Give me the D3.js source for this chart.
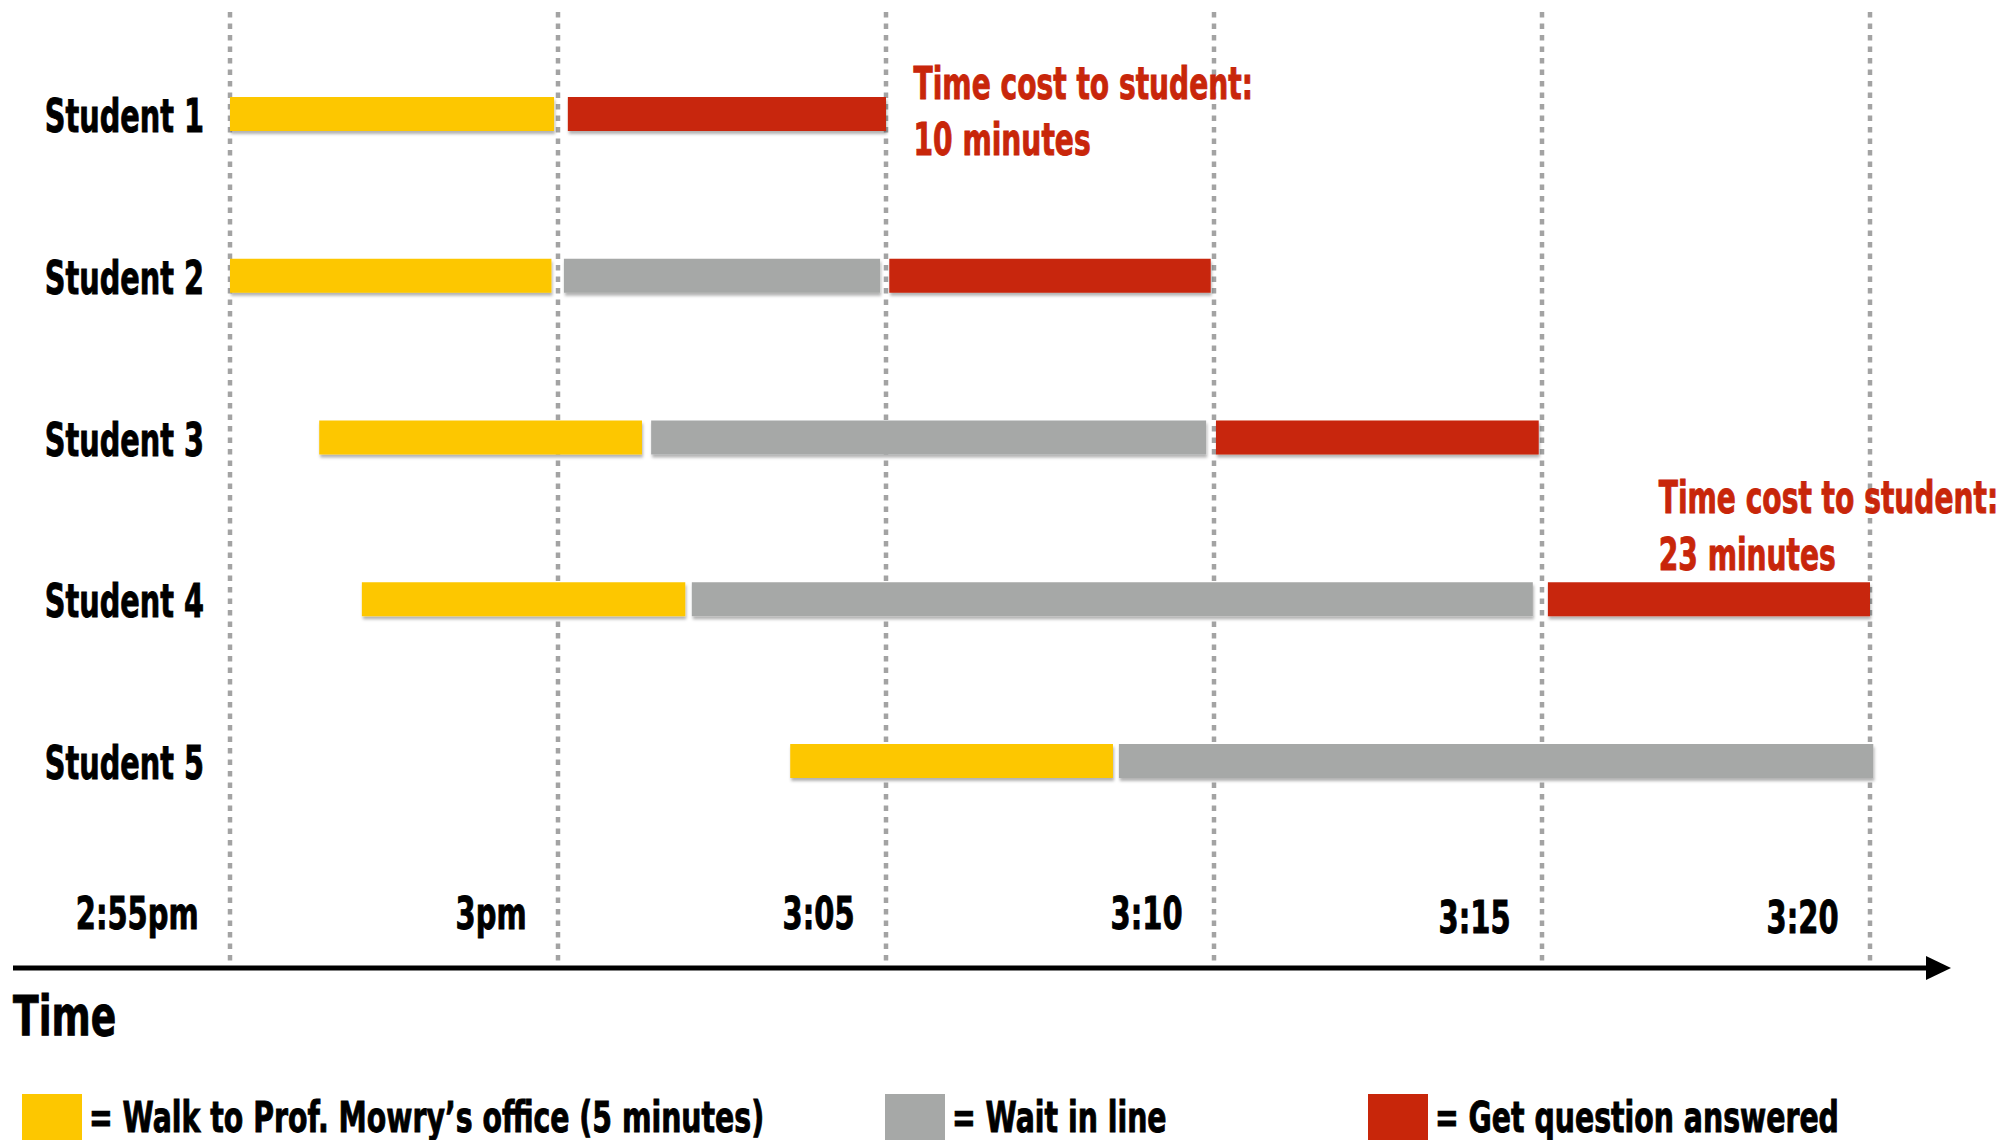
<!DOCTYPE html>
<html>
<head>
<meta charset="utf-8">
<script src="https://cdn.jsdelivr.net/npm/d3@7"></script>
<style>
  body { margin: 0; background: #fff; }
  svg text { font-family: "Liberation Sans Narrow", "DejaVu Sans Condensed", sans-serif; font-weight: bold; stroke-width: 0.9px; }
</style>
</head>
<body>
<svg id="chart"></svg>
<script>
const svgWidth = 2007;
const svgHeight = 1140;

// data: minutes after 2:55pm
const students = ['Student 1', 'Student 2', 'Student 3', 'Student 4', 'Student 5'];
const walkSegs = [[0, 4.94], [0, 4.9], [1.36, 6.28], [2.01, 6.94], [8.54, 13.46]];
const waitSegs = [null, [5.09, 9.91], [6.42, 14.88], [7.04, 19.86], [13.55, 25.05]];
const answerSegs = [[5.15, 10.0], [10.05, 14.95], [15.03, 19.95], [20.09, 25.0], null];

const tickMinutes = [0, 5, 10, 15, 20, 25];
const tickLabels = ['2:55pm', '3pm', '3:05', '3:10', '3:15', '3:20'];

const legendLabels = ['= Walk to Prof. Mowry\u2019s office (5 minutes)', '= Wait in line', '= Get question answered'];

const annoStudents = ['Student 1', 'Student 4'];
const annoMinutes = [10.42, 21.78];
const annoLines = [['Time cost to student:', '10 minutes'], ['Time cost to student:', '23 minutes']];
const annoOffsets = [[-15, 41], [-86, -29]];

const colors = { walk: '#FDC700', wait: '#A6A8A7', answer: '#C8260A' };

const barHeight = 34;
const axisY = 968;

const svg = d3.select('#chart')
  .attr('width', svgWidth)
  .attr('height', svgHeight);

const defs = svg.append('defs');
const shadow = defs.append('filter')
  .attr('id', 'shadow')
  .attr('x', '-5%').attr('y', '-30%')
  .attr('width', '110%').attr('height', '170%');
shadow.append('feDropShadow')
  .attr('dx', 1).attr('dy', 3)
  .attr('stdDeviation', 1.5)
  .attr('flood-color', '#000')
  .attr('flood-opacity', 0.3);

const x = d3.scaleLinear().domain([0, 25]).range([230, 1870]);
const y = d3.scalePoint().domain(students).range([114, 761]);

// squeeze text horizontally to mimic a condensed face
function squeeze(sel, k) {
  sel.each(function() {
    const w = this.getComputedTextLength();
    d3.select(this).attr('textLength', w * k).attr('lengthAdjust', 'spacingAndGlyphs');
  });
}

// dotted gridlines
svg.append('g')
  .selectAll('line')
  .data(tickMinutes)
  .enter()
  .append('line')
  .attr('x1', d => x(d))
  .attr('x2', d => x(d))
  .attr('y1', 12)
  .attr('y2', axisY - 2)
  .attr('stroke', '#A3A3A3')
  .attr('stroke-width', 4.5)
  .attr('stroke-dasharray', '5.5,6');

// bars
const segments = [];
students.forEach((s, i) => {
  if (walkSegs[i]) segments.push({ student: s, kind: 'walk', seg: walkSegs[i] });
  if (waitSegs[i]) segments.push({ student: s, kind: 'wait', seg: waitSegs[i] });
  if (answerSegs[i]) segments.push({ student: s, kind: 'answer', seg: answerSegs[i] });
});

svg.append('g')
  .selectAll('rect')
  .data(segments)
  .enter()
  .append('rect')
  .attr('x', d => x(d.seg[0]))
  .attr('width', d => x(d.seg[1]) - x(d.seg[0]))
  .attr('y', d => y(d.student) - barHeight / 2)
  .attr('height', barHeight)
  .attr('fill', d => colors[d.kind])
  .attr('filter', 'url(#shadow)');

// student labels
const studentLabels = svg.append('g')
  .selectAll('text')
  .data(students)
  .enter()
  .append('text')
  .attr('x', 204)
  .attr('y', d => y(d) + 18)
  .attr('text-anchor', 'end')
  .attr('font-size', 47)
  .attr('fill', '#000')
  .attr('stroke', '#000')
  .text(d => d);
squeeze(studentLabels, 0.68);

// time axis labels
const axis = d3.axisBottom(x)
  .tickValues(tickMinutes)
  .tickFormat((d, i) => tickLabels[i])
  .tickSize(0);
const axisG = svg.append('g')
  .attr('transform', `translate(0, ${axisY})`)
  .call(axis);
axisG.select('.domain').remove();
const tickText = axisG.selectAll('.tick text')
  .attr('font-family', null)
  .attr('font-size', 44)
  .attr('fill', '#000')
  .attr('stroke', '#000')
  .attr('text-anchor', 'end')
  .attr('dy', null)
  .attr('x', -32)
  .attr('y', (d, i) => i >= 4 ? -35 : -39);
squeeze(tickText, 0.73);

// axis arrow
svg.append('line')
  .attr('x1', 13)
  .attr('x2', 1930)
  .attr('y1', axisY)
  .attr('y2', axisY)
  .attr('stroke', '#000')
  .attr('stroke-width', 5);
svg.append('path')
  .attr('d', `M1926,${axisY - 12} L1951,${axisY} L1926,${axisY + 12} Z`)
  .attr('fill', '#000');

const timeLabel = svg.append('text')
  .attr('x', 13)
  .attr('y', 1035)
  .attr('font-size', 55)
  .attr('fill', '#000')
  .attr('stroke', '#000')
  .text('Time');
squeeze(timeLabel, 0.76);

// annotations
annoStudents.forEach((s, i) => {
  const t = svg.append('text')
    .attr('fill', colors.answer)
    .attr('stroke', colors.answer)
    .attr('font-size', 44);
  annoLines[i].forEach((line, j) => {
    t.append('tspan')
      .attr('x', x(annoMinutes[i]))
      .attr('y', y(s) + annoOffsets[i][j])
      .text(line);
  });
  squeeze(t.selectAll('tspan'), 0.71);
});

// legend
const legendX = [22, 885, 1368];
const legendKinds = ['walk', 'wait', 'answer'];
const legend = svg.append('g')
  .selectAll('g')
  .data(legendKinds)
  .enter()
  .append('g')
  .attr('transform', (d, i) => `translate(${legendX[i]}, 1094)`);
legend.append('rect')
  .attr('width', 60)
  .attr('height', 60)
  .attr('fill', d => colors[d]);
const legendText = legend.append('text')
  .attr('x', 67)
  .attr('y', 38)
  .attr('font-size', 42)
  .attr('fill', '#000')
  .attr('stroke', '#000')
  .text((d, i) => legendLabels[i]);
squeeze(legendText, 0.75);
</script>
</body>
</html>
